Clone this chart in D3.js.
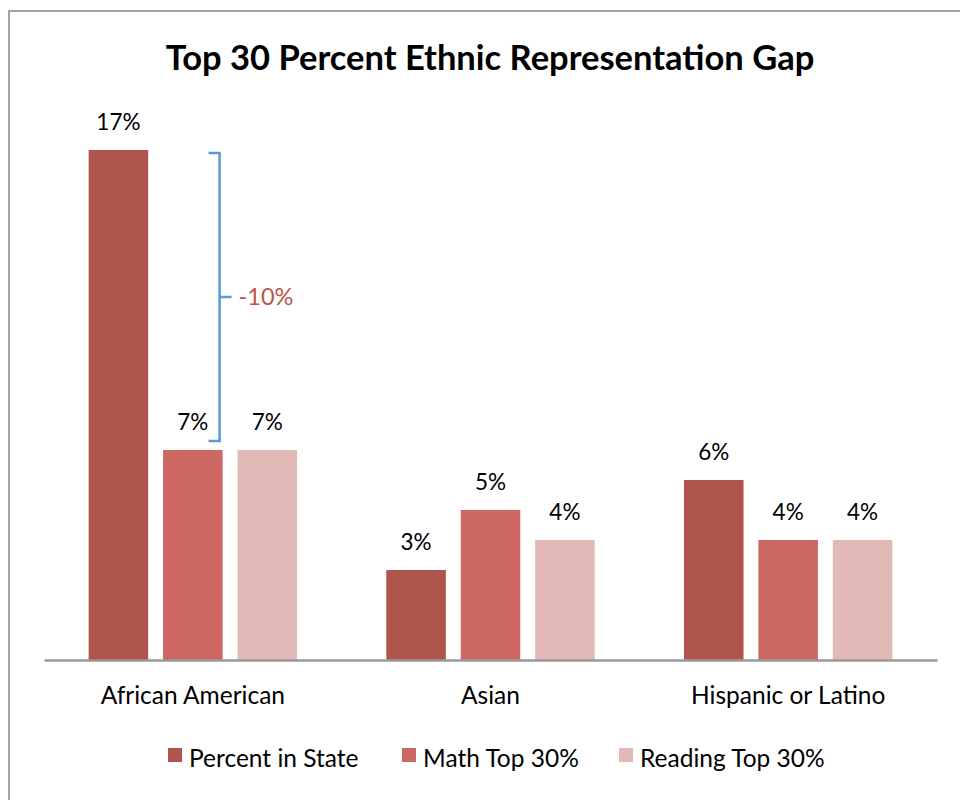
<!DOCTYPE html>
<html>
<head>
<meta charset="utf-8">
<script src="https://cdn.jsdelivr.net/npm/d3@7/dist/d3.min.js"></script>
<style>
  body { margin: 0; background: #fff; }
  svg { display: block; }
  text { font-family: "Lato", "Open Sans", sans-serif; }
</style>
</head>
<body>
<svg id="chart" width="960" height="800"></svg>
<script>
const categories = ["African American", "Asian", "Hispanic or Latino"];
const seriesNames = ["Percent in State", "Math Top 30%", "Reading Top 30%"];
const percentInState = [17, 3, 6];
const mathTop30 = [7, 5, 4];
const readingTop30 = [7, 4, 4];
const seriesColors = ["#af554d", "#cd6761", "#e2b9b7"];
const gapLabel = "-10%";

const seriesValues = [percentInState, mathTop30, readingTop30];
const rows = categories.map((c, i) => ({
  category: c,
  values: seriesNames.map((s, j) => ({ series: s, idx: j, value: seriesValues[j][i] }))
}));

const svg = d3.select("#chart");

// outer frame
svg.append("rect")
  .attr("x", 9).attr("y", 11)
  .attr("width", 970).attr("height", 820)
  .attr("fill", "none").attr("stroke", "#a3a3a3").attr("stroke-width", 2);

// title
svg.append("text")
  .attr("x", 490).attr("y", 70)
  .attr("text-anchor", "middle")
  .attr("font-size", 34.5).attr("font-weight", "bold")
  .attr("fill", "#000")
  .text("Top 30 Percent Ethnic Representation Gap");

const x0 = d3.scaleBand().domain(categories).range([44, 937])
  .paddingInner(0.3).paddingOuter(0.15);
const x1 = d3.scaleBand().domain(seriesNames).range([0, x0.bandwidth()])
  .paddingInner(0.2).paddingOuter(0);
const y = d3.scaleLinear().domain([0, 18]).range([660, 120]);
const color = d3.scaleOrdinal().domain(seriesNames).range(seriesColors);

const groups = svg.append("g").selectAll("g").data(rows).join("g")
  .attr("transform", d => `translate(${x0(d.category)},0)`);

groups.selectAll("rect").data(d => d.values).join("rect")
  .attr("x", d => x1(d.series))
  .attr("y", d => y(d.value))
  .attr("width", x1.bandwidth())
  .attr("height", d => y(0) - y(d.value))
  .attr("fill", d => color(d.series));

groups.selectAll("text.val").data(d => d.values).join("text")
  .attr("class", "val")
  .attr("x", d => x1(d.series) + x1.bandwidth() / 2)
  .attr("y", d => y(d.value) - 20)
  .attr("text-anchor", "middle")
  .attr("font-size", 22.5)
  .attr("fill", "#000")
  .text(d => d.value + "%");

// category axis
const xAxis = svg.append("g").attr("transform", `translate(0,${y(0)})`)
  .call(d3.axisBottom(x0).tickSize(0).tickPadding(27).tickSizeOuter(0));
xAxis.select(".domain").attr("stroke", "#999").attr("stroke-width", 2.5);
xAxis.selectAll("text").attr("font-size", 24.5).attr("fill", "#000")
  .attr("font-family", "Lato, 'Open Sans', sans-serif");

// gap bracket between state share and math share for first category
const gx = x0(categories[0]) + x1(seriesNames[1]) + x1.bandwidth() - 3;
const yTop = y(percentInState[0]) + 3;
const yBot = y(mathTop30[0]) - 9;
const yMid = (yTop + yBot) / 2;
const bracket = svg.append("g").attr("fill", "none").attr("stroke", "#5b9bd5").attr("stroke-width", 2.5);
bracket.append("path")
  .attr("d", `M${gx - 11},${yTop}H${gx}V${yBot}H${gx - 11}`);
bracket.append("line")
  .attr("x1", gx).attr("x2", gx + 12).attr("y1", yMid).attr("y2", yMid);
svg.append("text")
  .attr("x", gx + 19).attr("y", yMid + 8)
  .attr("font-size", 23.5).attr("fill", "#b9534b")
  .text(gapLabel);

// legend
const legendX = [168, 402, 619];
const legend = svg.append("g").selectAll("g").data(seriesNames).join("g")
  .attr("transform", (d, i) => `translate(${legendX[i]},748)`);
legend.append("rect").attr("width", 14).attr("height", 14)
  .attr("fill", d => color(d));
legend.append("text").attr("x", 21).attr("y", 19)
  .attr("font-size", 24.5).attr("fill", "#000")
  .text(d => d);
</script>
</body>
</html>
